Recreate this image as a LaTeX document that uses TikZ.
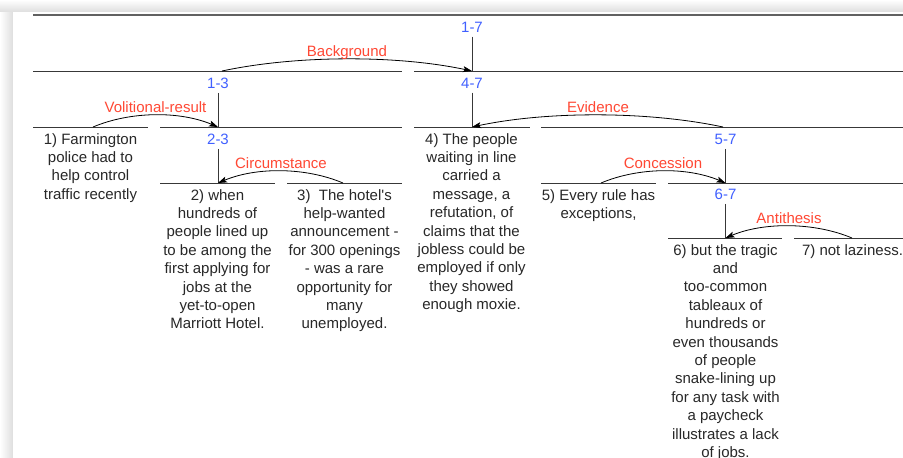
\documentclass[tikz,border=0pt]{standalone}
\usepackage{fontspec}
\setmainfont{Liberation Sans}
\usepackage{tikz}
\usetikzlibrary{arrows.meta}
\definecolor{spanblue}{RGB}{64,96,255}
\definecolor{relred}{RGB}{255,72,52}
\definecolor{segtext}{RGB}{40,40,40}

\begin{document}
\begin{tikzpicture}[x=1pt,y=-1pt,
  bar/.style={draw=black!78, line width=1pt},
  seg/.style={anchor=north, inner sep=0pt, align=center, text=segtext,
    font=\fontsize{15}{18.4}\selectfont},
  spanlbl/.style={anchor=base, inner sep=4pt, text=spanblue, font=\fontsize{15}{18}\selectfont},
  rellbl/.style={anchor=base, inner sep=0pt, text=relred, font=\fontsize{15}{18}\selectfont},
  relarc/.style={draw=black, line width=0.8pt, -{Stealth[length=9pt,width=6pt,inset=2pt]}}]
\useasboundingbox (0,0) rectangle (903,458);
% shadow of the window
\shade[top color=white, bottom color=black!13] (0,0) rectangle (903,12);
\shade[left color=white, right color=black!13] (0,12) rectangle (13,458);
\fill[white] (13,12) rectangle (903,458);

% span bars
\draw[bar, line width=1.8pt, draw=black!62] (33,15) -- (903,15);
\draw[bar] (33,71) -- (402,71);
\draw[bar] (414,71) -- (903,71);
\draw[bar] (33,127) -- (148,127);
\draw[bar] (160,127) -- (402,127);
\draw[bar] (414,127) -- (530,127);
\draw[bar] (541,127) -- (903,127);
\draw[bar] (160,183) -- (275,183);
\draw[bar] (287,183) -- (402,183);
\draw[bar] (541,183) -- (656,183);
\draw[bar] (668,183) -- (903,183);
\draw[bar] (668,238) -- (782,238);
\draw[bar] (794,238) -- (903,238);

% span labels and their stems
\node[spanlbl] (s17) at (472,32.5) {1-7};
\node[spanlbl] (s13) at (218,88.5) {1-3};
\node[spanlbl] (s47) at (472,88.5) {4-7};
\node[spanlbl] (s23) at (218,144.5) {2-3};
\node[spanlbl] (s57) at (725.5,144.5) {5-7};
\node[spanlbl] (s67) at (725.5,199.5) {6-7};
\coordinate (n17) at (472,71);
\coordinate (n13) at (218,127);
\coordinate (n47) at (472,127);
\coordinate (n23) at (218,183);
\coordinate (n57) at (725.5,183);
\coordinate (n67) at (725.5,238);
\draw[bar] (s17.south) -- (n17);
\draw[bar] (s13.south) -- (n13);
\draw[bar] (s47.south) -- (n47);
\draw[bar] (s23.south) -- (n23);
\draw[bar] (s57.south) -- (n57);
\draw[bar] (s67.south) -- (n67);

% satellites
\coordinate (a13) at (222,71);
\coordinate (a1) at (93,127);
\coordinate (a57) at (723,127);
\coordinate (a3) at (343,183);
\coordinate (a5) at (601,183);
\coordinate (a7) at (852,238);

% relations
\draw[relarc] (a13) .. controls +(75,-16) and +(-75,-16) .. (n17);
\node[rellbl] (rbg) at (347,56) {Background};
\draw[relarc] (a1) .. controls +(38,-16) and +(-38,-16) .. (n13);
\node[rellbl] (rvr) at (155.5,112) {Volitional-result};
\draw[relarc] (a57) .. controls +(-75,-16) and +(75,-16) .. (n47);
\node[rellbl] (rev) at (598,112) {Evidence};
\draw[relarc] (a3) .. controls +(-38,-16) and +(38,-16) .. (n23);
\node[rellbl] (rci) at (281,168) {Circumstance};
\draw[relarc] (a5) .. controls +(38,-16) and +(-38,-16) .. (n57);
\node[rellbl] (rco) at (663,168) {Concession};
\draw[relarc] (a7) .. controls +(-38,-16) and +(38,-16) .. (n67);
\node[rellbl] (ran) at (789,223) {Antithesis};

% segments
\node[seg] (t1) at (90.5,133) {1) Farmington\\police had to\\help control\\traffic recently};
\node[seg] (t2) at (217.5,189) {2) when\\hundreds of\\people lined up\\to be among the\\first applying for\\jobs at the\\yet-to-open\\Marriott Hotel.};
\node[seg] (t3) at (344.5,189) {3)\ \ The hotel\textquotesingle s\\help-wanted\\announcement -\\for 300 openings\\- was a rare\\opportunity for\\many\\unemployed.};
\node[seg] (t4) at (471.5,133) {4) The people\\waiting in line\\carried a\\message, a\\refutation, of\\claims that the\\jobless could be\\employed if only\\they showed\\enough moxie.};
\node[seg] (t5) at (598.5,189) {5) Every rule has\\exceptions,};
\node[seg] (t6) at (725.5,244) {6) but the tragic\\and\\too-common\\tableaux of\\hundreds or\\even thousands\\of people\\snake-lining up\\for any task with\\a paycheck\\illustrates a lack\\of jobs.};
\node[seg] (t7) at (852.5,244) {7) not laziness.};
\end{tikzpicture}
\end{document}
